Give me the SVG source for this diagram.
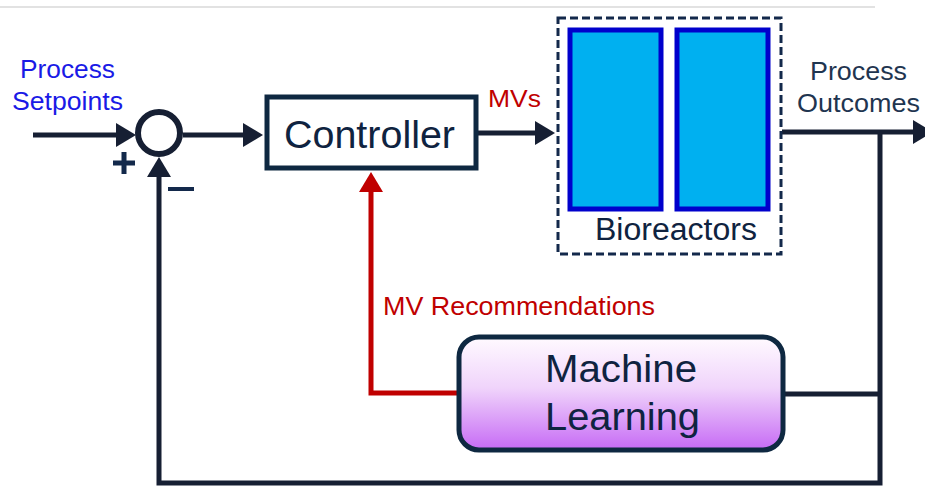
<svg xmlns="http://www.w3.org/2000/svg" width="925" height="488" viewBox="0 0 925 488">
  <style>
    .wire { fill: none; stroke: #161f33; stroke-width: 5; stroke-linejoin: miter; }
    .red { fill: none; stroke: #c00000; stroke-width: 5; stroke-linejoin: miter; }
    .lbl { font-family: "Liberation Sans", Arial, sans-serif; }
    .navy { fill: #13294b; }
    .blue { fill: #1a1ae6; }
    .redt { fill: #c00000; }
    .title { fill: #0f2340; }
    .tank { fill: #00b0f0; stroke: #0000cc; stroke-width: 5; }
  </style>
  <defs>
    <marker id="arrow" markerUnits="userSpaceOnUse" markerWidth="22" markerHeight="26" refX="5" refY="12" orient="auto">
      <path d="M0,0 L20,12 L0,24 z" fill="#161f33"/>
    </marker>
    <marker id="arrowRed" markerUnits="userSpaceOnUse" markerWidth="22" markerHeight="26" refX="5" refY="12" orient="auto">
      <path d="M0,0 L20,12 L0,24 z" fill="#c00000"/>
    </marker>
    <linearGradient id="mlFill" x1="0" y1="0" x2="0" y2="1">
      <stop offset="0" stop-color="#fffaff"/>
      <stop offset="0.45" stop-color="#f0d4fb"/>
      <stop offset="1" stop-color="#c66af5"/>
    </linearGradient>
  </defs>

  <!-- thin rule across the top -->
  <line x1="0" y1="7" x2="875" y2="7" stroke="#e2e2e2" stroke-width="2"/>

  <!-- connectors -->
  <g id="connectors">
    <path class="wire" d="M33 135 H121" marker-end="url(#arrow)"/>
    <path class="wire" d="M183 135 H248" marker-end="url(#arrow)"/>
    <path class="wire" d="M478 133 H540" marker-end="url(#arrow)"/>
    <path class="wire" d="M782 132 H918" marker-end="url(#arrow)"/>
    <path class="wire" d="M785 394 H880"/>
    <path class="wire" d="M880 132 V483 H159 V172" marker-end="url(#arrow)"/>
    <path class="red" d="M457 393 H371 V187" marker-end="url(#arrowRed)"/>
  </g>

  <!-- summing junction with its signs -->
  <g id="sum">
    <circle cx="159" cy="133" r="21" fill="#ffffff" stroke="#161f33" stroke-width="6"/>
    <path d="M113 163 H135 M124 152 V174" stroke="#13294b" stroke-width="5" fill="none"/>
    <line x1="168" y1="189" x2="194" y2="189" stroke="#13294b" stroke-width="4"/>
  </g>

  <!-- setpoint label -->
  <g id="setpoints">
    <text class="lbl blue" x="20" y="78" font-size="25" textLength="95" lengthAdjust="spacingAndGlyphs">Process</text>
    <text class="lbl blue" x="12" y="110" font-size="25" textLength="111" lengthAdjust="spacingAndGlyphs">Setpoints</text>
  </g>

  <!-- controller -->
  <g id="controller">
    <rect x="267" y="97" width="209" height="71" fill="#ffffff" stroke="#0e2841" stroke-width="5"/>
    <text class="lbl title" x="284" y="148" font-size="38" textLength="171" lengthAdjust="spacingAndGlyphs">Controller</text>
  </g>

  <!-- manipulated variables label -->
  <text class="lbl redt" x="488" y="107" font-size="23" textLength="53" lengthAdjust="spacingAndGlyphs">MVs</text>

  <!-- bioreactors -->
  <g id="bioreactors">
    <rect x="558" y="18" width="223" height="236" fill="none" stroke="#13294b" stroke-width="3" stroke-dasharray="8,4"/>
    <rect class="tank" x="570" y="30" width="91" height="179"/>
    <rect class="tank" x="677" y="30" width="91" height="179"/>
    <text class="lbl title" x="595" y="240" font-size="31" textLength="162" lengthAdjust="spacingAndGlyphs">Bioreactors</text>
  </g>

  <!-- outcome label -->
  <g id="outcomes">
    <text class="lbl" fill="#1f3550" x="810" y="80" font-size="25" textLength="97" lengthAdjust="spacingAndGlyphs">Process</text>
    <text class="lbl" fill="#1f3550" x="797" y="112" font-size="25" textLength="123" lengthAdjust="spacingAndGlyphs">Outcomes</text>
  </g>

  <!-- recommendation label -->
  <text class="lbl redt" x="383" y="315" font-size="25" textLength="272" lengthAdjust="spacingAndGlyphs">MV Recommendations</text>

  <!-- machine learning block -->
  <g id="machine-learning">
    <rect x="459" y="337" width="324" height="113" rx="20" ry="20" fill="url(#mlFill)" stroke="#0e2841" stroke-width="5"/>
    <text class="lbl title" x="545" y="382" font-size="38" textLength="152" lengthAdjust="spacingAndGlyphs">Machine</text>
    <text class="lbl title" x="545" y="430" font-size="38" textLength="155" lengthAdjust="spacingAndGlyphs">Learning</text>
  </g>
</svg>
